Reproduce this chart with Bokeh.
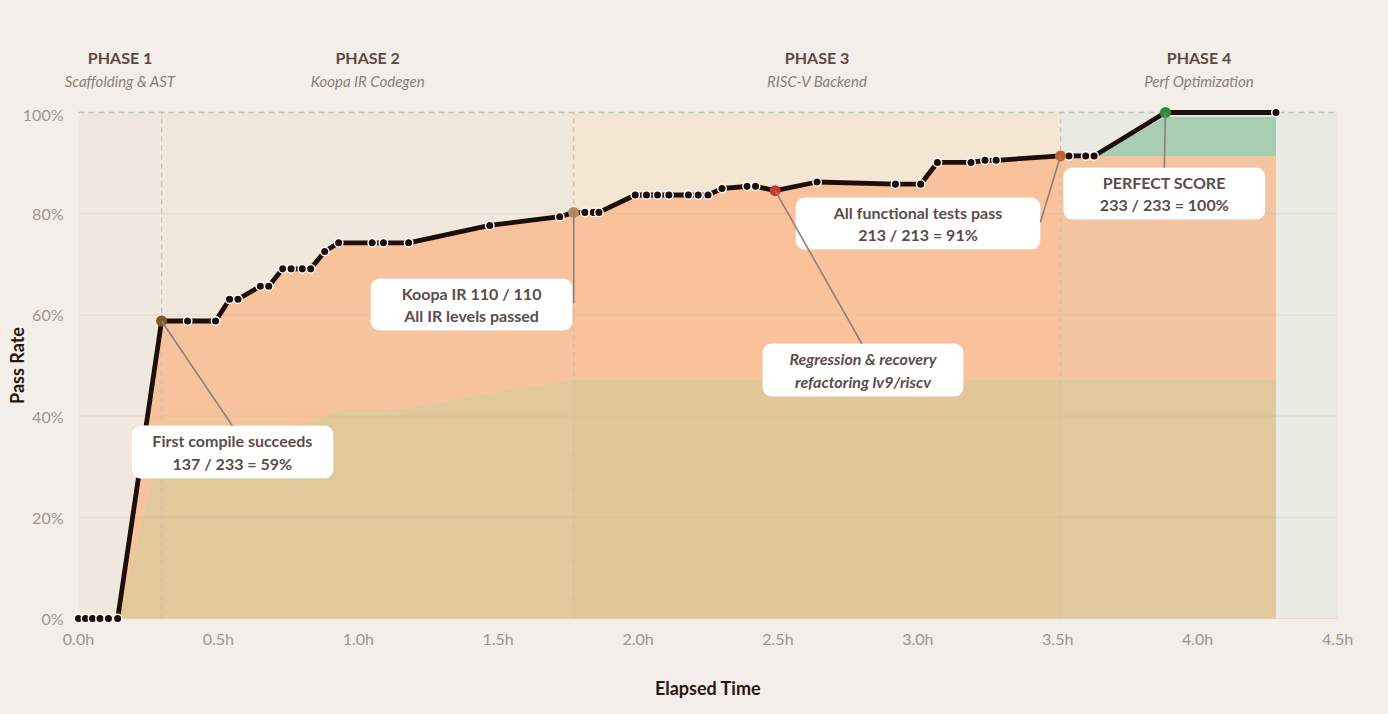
from bokeh.plotting import figure
from bokeh.layouts import column
from bokeh.models import Range1d, FixedTicker, PrintfTickFormatter, Label, Arrow, BoxAnnotation
from bokeh.core.properties import value
from bokeh.embed import file_html
from bokeh.resources import INLINE

TOTAL_TESTS = 233

# elapsed time (hours) of each test run
hours = [0.0, 0.025, 0.05, 0.077, 0.107, 0.14, 0.297, 0.39, 0.49, 0.54, 0.57,
         0.65, 0.68, 0.73, 0.76, 0.80, 0.83, 0.88, 0.93, 1.05, 1.09, 1.18,
         1.47, 1.72, 1.77, 1.81, 1.84, 1.86, 1.99, 2.03, 2.07, 2.11, 2.18,
         2.215, 2.25, 2.30, 2.39, 2.42, 2.49, 2.64, 2.92, 3.01, 3.07, 3.19,
         3.24, 3.28, 3.51, 3.54, 3.60, 3.63, 3.885, 4.28]

# total passing tests (line)
total_pass = [0, 0, 0, 0, 0, 0, 137, 137, 137, 147, 147, 153, 153, 161, 161,
              161, 161, 169, 173, 173, 173, 173, 181, 185, 187, 187, 187, 187,
              195, 195, 195, 195, 195, 195, 195, 198, 199, 199, 197, 201, 200,
              200, 210, 210, 211, 211, 213, 213, 213, 213, 233, 233]

# Koopa IR tests passing (bottom layer)
ir_pass = [0, 0, 0, 0, 0, 0, 79, 81, 83, 85, 85, 87, 87, 89, 89, 90, 91, 93,
           96, 96, 96, 97, 104, 109, 110, 110, 110, 110, 110, 110, 110, 110,
           110, 110, 110, 110, 110, 110, 110, 110, 110, 110, 110, 110, 110,
           110, 110, 110, 110, 110, 110, 110]

# functional (IR + RISC-V) passing tests (top of middle layer)
func_pass = [0, 0, 0, 0, 0, 0, 137, 137, 137, 147, 147, 153, 153, 161, 161,
             161, 161, 169, 173, 173, 173, 173, 181, 185, 187, 187, 187, 187,
             195, 195, 195, 195, 195, 195, 195, 198, 199, 199, 197, 201, 200,
             200, 210, 210, 211, 211, 213, 213, 213, 213, 213, 213]

# performance layer
perf_hours = [3.63, 3.885, 4.28]
perf_base = [213, 213, 213]
perf_top = [213, 231, 231]

phase_starts = [0.0, 0.297, 1.77, 3.51]
phase_ends = [0.297, 1.77, 3.51, 4.5]
phase_titles = ["PHASE 1", "PHASE 2", "PHASE 3", "PHASE 4"]
phase_subtitles = ["Scaffolding & AST", "Koopa IR Codegen", "RISC-V Backend", "Perf Optimization"]
phase_colors = ["#f0e8df", "#f0e8dc", "#f5e6d4", "#e9ebe2"]

milestone_idx = [6, 24, 38, 46, 50]
milestone_colors = ["#7a5a2c", "#b38b5d", "#d0342e", "#c4622d", "#2f8a3c"]
milestone_texts = ["First compile succeeds\n137 / 233 = 59%",
                   "Koopa IR 110 / 110\nAll IR levels passed",
                   "Regression & recovery\nrefactoring lv9/riscv",
                   "All functional tests pass\n213 / 213 = 91%",
                   "PERFECT SCORE\n233 / 233 = 100%"]
milestone_styles = ["bold", "bold", "bold italic", "bold", "bold"]
# annotation boxes (hours, percent)
box_left = [0.189, 1.044, 2.445, 2.563, 3.520]
box_right = [0.911, 1.766, 3.163, 3.438, 4.242]
box_top = [38.14, 67.19, 54.35, 83.20, 89.13]
box_bottom = [27.67, 56.92, 43.87, 72.92, 78.85]
leader_end_x = [0.550, 1.77, 2.80, 3.438, 3.881]
leader_end_y = [38.1, 62.3, 54.3, 78.3, 89.1]

x_ticks = [0.0, 0.5, 1.0, 1.5, 2.0, 2.5, 3.0, 3.5, 4.0, 4.5]
y_ticks = [0, 20, 40, 60, 80, 100]

FONT = "Lato"
PAGE_BG = "#f3eee9"
W = 1388
TOP_H = 104
MAIN_H = 610
BORDER_L = 56
BORDER_R = 29


def pct(vals):
    return [v / TOTAL_TESTS * 100 for v in vals]


total_pct = pct(total_pass)
ir_pct = pct(ir_pass)
func_pct = pct(func_pass)

xr = Range1d(-0.0786, 4.5786)

# ---- header strip with phase names ----
top = figure(width=W, height=TOP_H, x_range=xr, y_range=Range1d(0, TOP_H),
             output_backend="svg", toolbar_location=None,
             x_axis_location=None, y_axis_location=None,
             background_fill_color=PAGE_BG, border_fill_color=PAGE_BG,
             min_border_left=BORDER_L, min_border_right=BORDER_R,
             min_border_top=0, min_border_bottom=0)
top.outline_line_color = None
top.grid.visible = False
phase_cx = [(a + b) / 2 for a, b in zip(phase_starts, phase_ends)]
top.text(x=phase_cx, y=[TOP_H - 57] * 4, text=phase_titles, text_align="center",
         text_baseline="middle", text_font=value(FONT), text_font_size="16px",
         text_font_style="bold", text_color="#5b4a44")
top.text(x=phase_cx, y=[TOP_H - 80] * 4, text=phase_subtitles, text_align="center",
         text_baseline="middle", text_font=value(FONT), text_font_size="15px",
         text_font_style="italic", text_color="#8b7f78")

# ---- main chart ----
p = figure(width=W, height=MAIN_H,
           x_range=xr, y_range=Range1d(-1.581, 101.581),
           output_backend="svg", toolbar_location=None,
           background_fill_color=PAGE_BG, border_fill_color=PAGE_BG,
           min_border_left=BORDER_L, min_border_right=BORDER_R,
           min_border_top=0, min_border_bottom=MAIN_H - 522)
p.outline_line_color = None
p.grid.visible = False

# phase bands
p.quad(left=phase_starts, right=phase_ends, bottom=0, top=100,
       fill_color=phase_colors, line_color=None)

# stacked areas
p.varea(x=hours, y1=[0] * len(hours), y2=ir_pct, fill_color="#dcbc80", fill_alpha=0.72)
p.varea(x=hours, y1=ir_pct, y2=func_pct, fill_color="#fda46a", fill_alpha=0.55)
p.varea(x=perf_hours, y1=pct(perf_base), y2=pct(perf_top), fill_color="#a9cdb3", fill_alpha=1.0)

# grid lines
grid_levels = y_ticks[:-1]
p.segment(x0=[0] * len(grid_levels), x1=[4.5] * len(grid_levels), y0=grid_levels, y1=grid_levels,
          line_color="#c8b8a5", line_alpha=0.35, line_width=1)
p.segment(x0=[0], x1=[4.5], y0=[100], y1=[100], line_color="#bac7b6", line_width=1.5,
          line_dash="6 4")

# phase dividers
dividers = phase_starts[1:]
p.segment(x0=dividers, x1=dividers, y0=[0] * len(dividers), y1=[100] * len(dividers),
          line_color="#d3c0a8", line_width=1.3, line_dash="5 4")

# main line and points
p.line(hours, total_pct, line_color="#1e0e09", line_width=4.8, line_join="round")
p.scatter(hours, total_pct, size=8.5, fill_color="#1e0e09", line_color="white", line_width=1.4)

mx = [hours[i] for i in milestone_idx]
my = [total_pct[i] for i in milestone_idx]
p.scatter(mx, my, size=11, fill_color=milestone_colors, line_color=None)

# axes
p.xaxis.ticker = FixedTicker(ticks=x_ticks)
p.xaxis.formatter = PrintfTickFormatter(format="%.1fh")
p.yaxis.ticker = FixedTicker(ticks=y_ticks)
p.yaxis.formatter = PrintfTickFormatter(format="%d%%")
for ax in (p.xaxis, p.yaxis):
    ax.axis_line_color = None
    ax.major_tick_line_color = None
    ax.minor_tick_line_color = None
    ax.major_tick_in = 0
    ax.major_tick_out = 0
    ax.major_label_text_font = FONT
    ax.major_label_text_font_size = "16px"
    ax.major_label_text_color = "#a0958d"
    ax.axis_label_text_font = FONT
    ax.axis_label_text_font_size = "18px"
    ax.axis_label_text_font_style = "bold"
    ax.axis_label_text_color = "#2b160f"
p.xaxis.axis_label = "Elapsed Time"
p.yaxis.axis_label = "Pass Rate"
p.xaxis.major_label_standoff = 2
p.xaxis.axis_label_standoff = 26
p.yaxis.major_label_standoff = -7
p.yaxis.axis_label_standoff = -8

# annotation boxes
for i in range(len(milestone_texts)):
    p.add_layout(BoxAnnotation(left=box_left[i], right=box_right[i], top=box_top[i],
                               bottom=box_bottom[i], fill_color="white", fill_alpha=1.0,
                               line_color="#d6cec6", line_width=1, border_radius=9))
    p.add_layout(Label(x=(box_left[i] + box_right[i]) / 2, y=(box_top[i] + box_bottom[i]) / 2,
                       text=milestone_texts[i], text_align="center",
                       text_baseline="middle", text_font=FONT, text_font_size="16px",
                       text_font_style=milestone_styles[i], text_color="#5a4d4a",
                       text_line_height=1.2))

# leader lines
for i in range(len(milestone_idx)):
    p.add_layout(Arrow(x_start=mx[i], y_start=my[i], x_end=leader_end_x[i], y_end=leader_end_y[i],
                       end=None, line_color="#8a817a", line_width=1.6))

layout = column(top, p, spacing=0, styles={"background-color": PAGE_BG})
open("out.html", "w").write(file_html(layout, INLINE))
